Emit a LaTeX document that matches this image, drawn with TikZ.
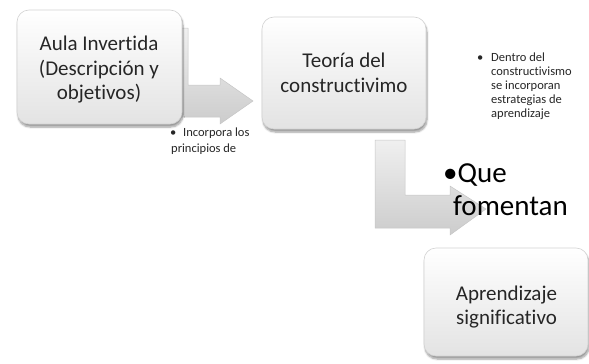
\documentclass[tikz,border=0pt]{standalone}
\usepackage{fontspec}
\setmainfont{Carlito}[Ligatures=CommonOff]
\usetikzlibrary{shadows.blur}
\begin{document}
\begin{tikzpicture}[x=1pt,y=-1pt,
  box/.style={rounded corners=12pt, top color=white, bottom color=gray!22, draw=gray!35, line width=0.6pt,
    blur shadow={shadow xshift=1pt, shadow yshift=-3pt, shadow blur steps=6}},
  boxtext/.style={align=center, font=\fontsize{21}{24.5}\selectfont, text=black!85},
  arr/.style={top color=gray!12, bottom color=gray!40, draw=gray!45, line width=0.5pt},
  small/.style={inner sep=0pt, anchor=base west, font=\fontsize{12.5}{14}\selectfont, text=black!85},
  big/.style={inner sep=0pt, anchor=base west, font=\fontsize{29}{33}\selectfont}]
\useasboundingbox (0,0) rectangle (589,364);
% arrow 1
\draw[arr] (150,28) -- (188,28) -- (188,85) -- (220,85) -- (220,78) -- (253,101) -- (220,124) -- (220,117) -- (150,117) -- cycle;
% arrow 2
\draw[arr] (375,140) -- (405,140) -- (405,195) -- (450,195) -- (450,186) -- (486,209) -- (450,235) -- (450,228) -- (375,228) -- cycle;
% boxes
\draw[box] (17,10) rectangle (182,124);
\node[boxtext] (b1) at (99,70) {Aula Invertida\\(Descripción y\\objetivos)};
\draw[box] (262,17) rectangle (426,129);
\node[boxtext] (b2) at (344,73) {Teoría del\\constructivimo};
\draw[box] (424,248) rectangle (588,356);
\node[boxtext] (b3) at (506.5,307) {Aprendizaje\\significativo};
% labels
\node[small] (l1a) at (170,136) {\textbullet};
\node[small] (l1b) at (183,136) {Incorpora los};
\node[small] (l1c) at (171,152) {principios de};
\node[small] (l2a) at (477,61) {\textbullet};
\node[small] (l2b) at (491,61) {Dentro del};
\node[small] (l2c) at (491,75) {constructivismo};
\node[small] (l2d) at (491,89) {se incorporan};
\node[small] (l2e) at (491,103) {estrategias de};
\node[small] (l2f) at (491,117) {aprendizaje};
\node[big] (l3a) at (443,182) {\textbullet Que};
\node[big] (l3b) at (453,215) {fomentan};
\end{tikzpicture}
\end{document}
